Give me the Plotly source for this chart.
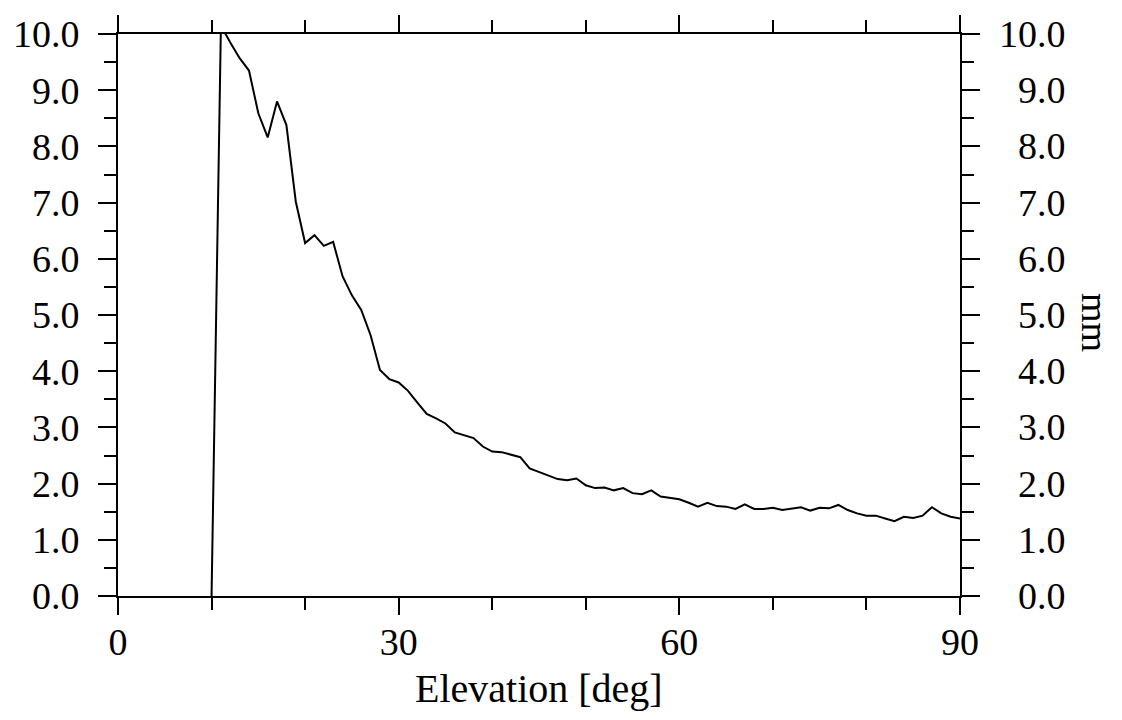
import plotly.graph_objects as go

elevation = list(range(10, 91))
values_mm = [
    0.0, 10.15, 9.85, 9.57, 9.35, 8.59, 8.16, 8.80, 8.38, 7.02,
    6.28, 6.42, 6.23, 6.30, 5.69, 5.35, 5.09, 4.64, 4.02, 3.86,
    3.80, 3.65, 3.44, 3.24, 3.16, 3.07, 2.91, 2.86, 2.81, 2.66,
    2.57, 2.56, 2.52, 2.47, 2.27, 2.21, 2.15, 2.08, 2.06, 2.09,
    1.97, 1.92, 1.93, 1.88, 1.92, 1.83, 1.81, 1.88, 1.77, 1.74,
    1.72, 1.66, 1.59, 1.66, 1.60, 1.59, 1.55, 1.63, 1.55, 1.55,
    1.57, 1.53, 1.55, 1.58, 1.52, 1.57, 1.56, 1.62, 1.53, 1.47,
    1.43, 1.43, 1.38, 1.33, 1.41, 1.39, 1.43, 1.58, 1.47, 1.41,
    1.38,
]
x_ticks = [0, 30, 60, 90]
y_ticks = [0, 1, 2, 3, 4, 5, 6, 7, 8, 9, 10]

FONT = "Liberation Serif, Times New Roman, serif"
FS = 38

# page has an 8px body margin offset; plot area targets page px 118..960 x 34..596
OFF = 8
PL, PR, PT, PB = 118, 960, 34, 596
PW, PH = PR - PL, PB - PT

fig = go.Figure()
fig.add_trace(go.Scatter(
    x=elevation, y=values_mm, mode="lines",
    line=dict(color="black", width=2), showlegend=False, hoverinfo="skip",
))

annotations = [
    dict(text="Elevation [deg]", x=0.5, y=(PB - 688) / PH, xref="paper", yref="paper",
         xanchor="center", yanchor="middle", showarrow=False,
         font=dict(family=FONT, size=40, color="black")),
    dict(text="mm", x=(1095 - PL) / PW, y=(PB - 322) / PH, xref="paper", yref="paper",
         xanchor="center", yanchor="middle", showarrow=False, textangle=90,
         font=dict(family=FONT, size=FS, color="black")),
]
for v in y_ticks:
    annotations.append(dict(
        text=f"{v:.1f}", x=(1068 - PL) / PW, y=v, xref="paper", yref="y",
        xanchor="right", yanchor="middle", showarrow=False,
        font=dict(family=FONT, size=FS, color="black"),
    ))

fig.update_layout(
    width=1122, height=720,
    margin=dict(l=PL - OFF, r=1122 - (PR - OFF), t=PT - OFF, b=720 - (PB - OFF), autoexpand=False),
    paper_bgcolor="white", plot_bgcolor="white",
    font=dict(family=FONT, size=FS, color="black"),
    xaxis=dict(
        range=[0, 90], tickvals=x_ticks,
        ticks="outside", ticklen=17, tickwidth=2, tickcolor="black",
        showline=True, linecolor="black", linewidth=2, mirror="ticks",
        showgrid=False, zeroline=False, automargin=False,
        minor=dict(ticks="outside", ticklen=12, tickwidth=2, tickcolor="black", dtick=10, showgrid=False),
        tickfont=dict(family=FONT, size=FS, color="black"),
        ticklabelstandoff=-6,
    ),
    yaxis=dict(
        range=[0, 10], tickvals=y_ticks, tickformat=".1f",
        ticks="outside", ticklen=18, tickwidth=2, tickcolor="black",
        showline=True, linecolor="black", linewidth=2, mirror="ticks",
        showgrid=False, zeroline=False, automargin=False,
        minor=dict(ticks="outside", ticklen=12, tickwidth=2, tickcolor="black", dtick=0.5, showgrid=False),
        tickfont=dict(family=FONT, size=FS, color="black"),
        ticklabelstandoff=11,
    ),
    annotations=annotations,
)

fig.write_html("out.html")
